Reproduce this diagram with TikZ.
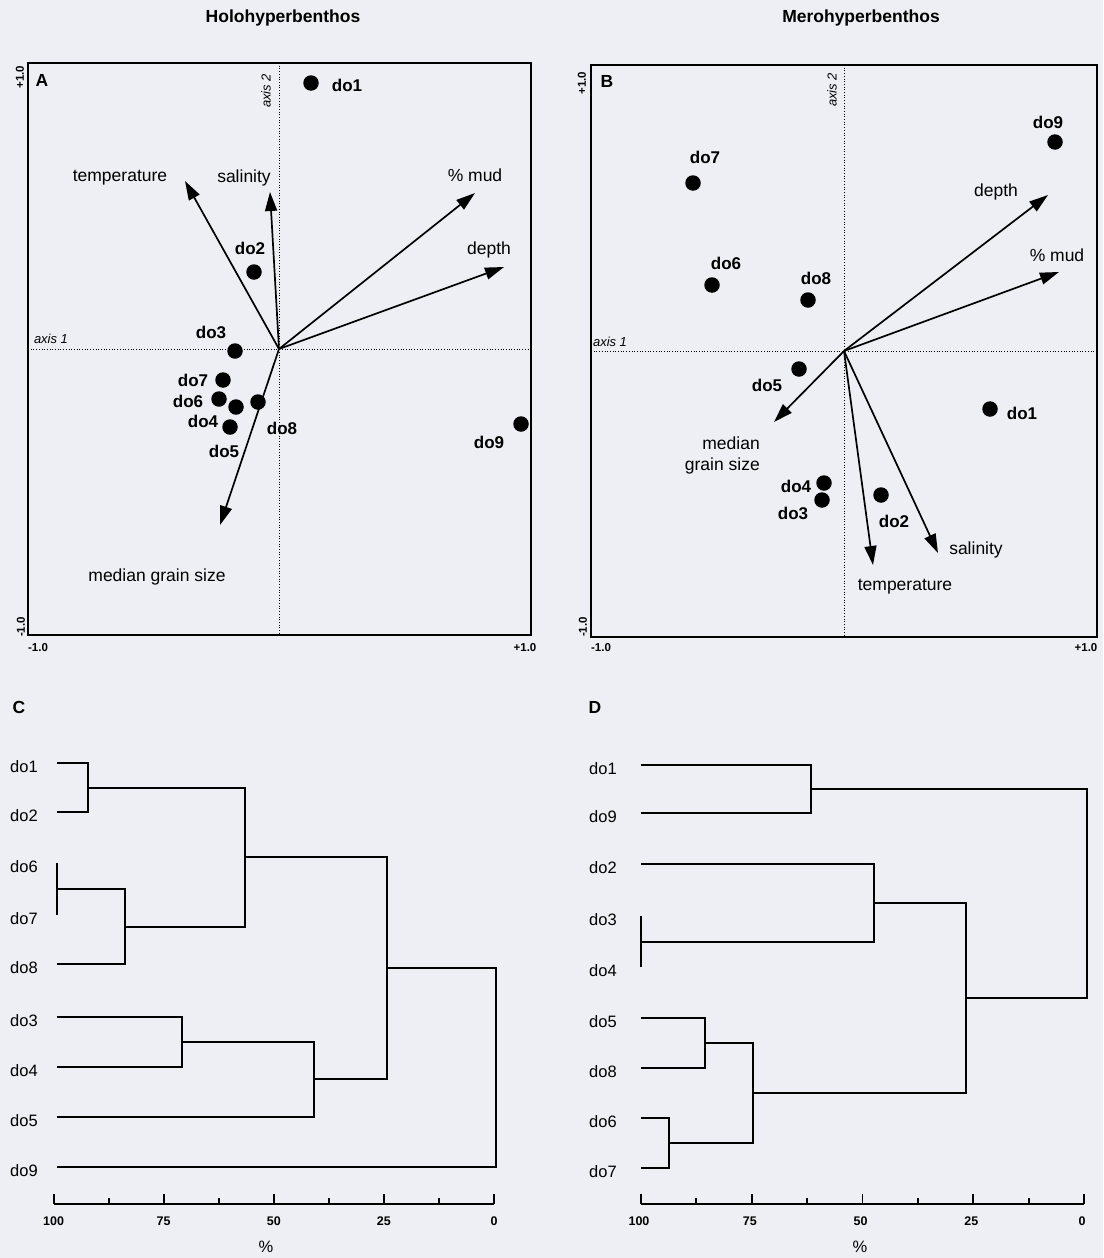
\documentclass[tikz,border=0pt]{standalone}
\usepackage{fontspec}
\setmainfont{Liberation Sans}
\usetikzlibrary{arrows.meta}
\definecolor{paper}{RGB}{237,239,244}
\begin{document}
\begin{tikzpicture}[x=1pt,y=-1pt,
  ttl/.style={font=\bfseries\fontsize{17.5}{19}\selectfont, inner sep=0},
  pnl/.style={font=\bfseries\fontsize{17.5}{19}\selectfont, inner sep=0},
  varlbl/.style={font=\fontsize{17.5}{21}\selectfont, inner sep=0},
  sitelbl/.style={font=\bfseries\fontsize{17}{20}\selectfont, inner sep=0},
  numlbl/.style={font=\bfseries\fontsize{11.5}{13}\selectfont, inner sep=0},
  axislbl/.style={font=\itshape\fontsize{13}{15}\selectfont, inner sep=0},
  sitedot/.style={circle, fill=black, minimum size=15.5pt, inner sep=0},
  vecarrow/.style={line width=1.7pt, -{Triangle[length=19pt,width=12pt]}},
  axisline/.style={line width=0.7pt, dotted},
  boxframe/.style={line width=2pt},
  dendline/.style={line width=1.9pt},
  leaflbl/.style={font=\fontsize{16.5}{20}\selectfont, inner sep=0, anchor=west},
  ticklbl/.style={font=\bfseries\fontsize{12.5}{14}\selectfont, inner sep=0},
]
\fill[paper] (0,0) rectangle (1103,1258);
\useasboundingbox (0,0) rectangle (1103,1258);

% ---------- titles ----------
\node[ttl] (tA) at (283,18) {Holohyperbenthos};
\node[ttl] (tB) at (861,18) {Merohyperbenthos};

% ================= Panel A =================
\draw[boxframe] (28,63) rectangle (531,635);
\coordinate (oA) at (279,349);
\draw[axisline] (279,63) -- (279,635);
\draw[axisline] (28,349) -- (531,349);
\node[pnl] (pA) at (42,80) {A};
\node[numlbl, rotate=90] (Ayp) at (20,77) {+1.0};
\node[numlbl, rotate=90] (Aym) at (21,627) {-1.0};
\node[numlbl] (Axm) at (38,648) {-1.0};
\node[numlbl] (Axp) at (525,648) {+1.0};
\node[axislbl, rotate=90] (Aax2) at (266,91) {axis 2};
\node[axislbl] (Aax1) at (51,339) {axis 1};

\coordinate (Atemp) at (185,181);
\coordinate (Asal) at (270,192);
\coordinate (Amud) at (475,193);
\coordinate (Adep) at (504,267);
\coordinate (Amed) at (220,525);
\draw[vecarrow] (oA) -- (Atemp);
\draw[vecarrow] (oA) -- (Asal);
\draw[vecarrow] (oA) -- (Amud);
\draw[vecarrow] (oA) -- (Adep);
\draw[vecarrow] (oA) -- (Amed);
\node[varlbl] (AtempL) at (120,178) {temperature};
\node[varlbl] (AsalL) at (244,178) {salinity};
\node[varlbl] (AmudL) at (475,175) {\% mud};
\node[varlbl] (AdepL) at (489,250) {depth};
\node[varlbl] (AmedL) at (157,577) {median grain size};

\node[sitedot] (A1) at (311,83) {};
\node[sitelbl] (A1L) at (347,85) {do1};
\node[sitedot] (A2) at (254,272) {};
\node[sitelbl] (A2L) at (250,248) {do2};
\node[sitedot] (A3) at (235,351) {};
\node[sitelbl] (A3L) at (211,332) {do3};
\node[sitedot] (A7) at (223,380) {};
\node[sitelbl] (A7L) at (193,380) {do7};
\node[sitedot] (A6) at (219,399) {};
\node[sitelbl] (A6L) at (188,401) {do6};
\node[sitedot] (A4) at (236,407) {};
\node[sitelbl] (A4L) at (203,421) {do4};
\node[sitedot] (A5) at (230,427) {};
\node[sitelbl] (A5L) at (224,451) {do5};
\node[sitedot] (A8) at (258,402) {};
\node[sitelbl] (A8L) at (282,428) {do8};
\node[sitedot] (A9) at (521,424) {};
\node[sitelbl] (A9L) at (489,442) {do9};

% ================= Panel B =================
\draw[boxframe] (591,65) rectangle (1097,637);
\coordinate (oB) at (844,351);
\draw[axisline] (844,65) -- (844,637);
\draw[axisline] (591,351) -- (1097,351);
\node[pnl] (pB) at (607,81) {B};
\node[numlbl, rotate=90] (Byp) at (582,83) {+1.0};
\node[numlbl, rotate=90] (Bym) at (583,627) {-1.0};
\node[numlbl] (Bxm) at (601,648) {-1.0};
\node[numlbl] (Bxp) at (1086,648) {+1.0};
\node[axislbl, rotate=90] (Bax2) at (832,90) {axis 2};
\node[axislbl] (Bax1) at (610,342) {axis 1};

\coordinate (Bdep) at (1048,195);
\coordinate (Bmud) at (1059,272);
\coordinate (Bmed) at (774,422);
\coordinate (Btemp) at (873,565);
\coordinate (Bsal) at (938,553);
\draw[vecarrow] (oB) -- (Bdep);
\draw[vecarrow] (oB) -- (Bmud);
\draw[vecarrow] (oB) -- (Bmed);
\draw[vecarrow] (oB) -- (Btemp);
\draw[vecarrow] (oB) -- (Bsal);
\node[varlbl] (BdepL) at (996,192) {depth};
\node[varlbl] (BmudL) at (1057,255) {\% mud};
\node[varlbl, align=right, anchor=east, font=\fontsize{17.5}{21}\selectfont] (BmedL) at (760,455) {median\\grain size};
\node[varlbl] (BtempL) at (905,587) {temperature};
\node[varlbl] (BsalL) at (976,550) {salinity};

\node[sitedot] (B9) at (1055,142) {};
\node[sitelbl] (B9L) at (1048,122) {do9};
\node[sitedot] (B7) at (693,183) {};
\node[sitelbl] (B7L) at (705,157) {do7};
\node[sitedot] (B6) at (712,285) {};
\node[sitelbl] (B6L) at (726,263) {do6};
\node[sitedot] (B8) at (808,300) {};
\node[sitelbl] (B8L) at (816,278) {do8};
\node[sitedot] (B5) at (799,369) {};
\node[sitelbl] (B5L) at (767,385) {do5};
\node[sitedot] (B1) at (990,409) {};
\node[sitelbl] (B1L) at (1022,413) {do1};
\node[sitedot] (B4) at (824,483) {};
\node[sitelbl] (B4L) at (796,486) {do4};
\node[sitedot] (B3) at (822,500) {};
\node[sitelbl] (B3L) at (793,513) {do3};
\node[sitedot] (B2) at (881,495) {};
\node[sitelbl] (B2L) at (894,521) {do2};

% ================= Panel C =================
\node[pnl] (pC) at (19,707) {C};
\foreach \n/\y in {1/763,2/812,6/863,7/915,8/964,3/1017,4/1067,5/1117,9/1167}{
  \coordinate (c\n) at (57,\y);
  \node[leaflbl] (cL\n) at (10,\y+4) {do\n};
}
\coordinate (cj12) at (88,788);
\coordinate (cj67) at (57,889);
\coordinate (cj678) at (125,927);
\coordinate (cj12678) at (245,857);
\coordinate (cj34) at (182,1042);
\coordinate (cj345) at (314,1079);
\coordinate (cjA) at (387,968);
\coordinate (croot) at (496,1067);
\draw[dendline] (c1) -| (cj12);
\draw[dendline] (c2) -| (cj12);
\draw[dendline] (c6) -- (c7);
\draw[dendline] (cj67) -| (cj678);
\draw[dendline] (c8) -| (cj678);
\draw[dendline] (cj12) -| (cj12678);
\draw[dendline] (cj678) -| (cj12678);
\draw[dendline] (c3) -| (cj34);
\draw[dendline] (c4) -| (cj34);
\draw[dendline] (cj34) -| (cj345);
\draw[dendline] (c5) -| (cj345);
\draw[dendline] (cj12678) -| (cjA);
\draw[dendline] (cj345) -| (cjA);
\draw[dendline] (cjA) -| (croot);
\draw[dendline] (c9) -| (croot);

\coordinate (cax0) at (53.6,1204);
\coordinate (cax1) at (494,1204);
\draw[dendline] (cax0) -- (cax1);
\foreach \p in {100,75,50,25,0}{
  \pgfmathsetmacro\xx{494-4.404*\p}
  \draw[dendline] (\xx,1204) -- (\xx,1194);
  \node[ticklbl] at (\xx,1221) {\p};
}
\foreach \p in {87.5,62.5,37.5,12.5}{
  \pgfmathsetmacro\xx{494-4.404*\p}
  \draw[dendline] (\xx,1204) -- (\xx,1198);
}
\node[varlbl, font=\fontsize{16.5}{18}\selectfont] (cpct) at (266,1247) {\%};

% ================= Panel D =================
\node[pnl] (pD) at (595,707) {D};
\foreach \n/\y in {1/765,9/813,2/864,3/916,4/967,5/1018,8/1068,6/1118,7/1168}{
  \coordinate (d\n) at (641,\y);
  \node[leaflbl] (dL\n) at (589,\y+4) {do\n};
}
\coordinate (dj19) at (811,789);
\coordinate (dj34) at (641,942);
\coordinate (dj234) at (874,903);
\coordinate (dj58) at (705,1043);
\coordinate (dj67) at (669,1143);
\coordinate (dj5867) at (753,1093);
\coordinate (dj27) at (966,998);
\coordinate (droot) at (1087,893);
\draw[dendline] (d1) -| (dj19);
\draw[dendline] (d9) -| (dj19);
\draw[dendline] (d3) -- (d4);
\draw[dendline] (d2) -| (dj234);
\draw[dendline] (dj34) -| (dj234);
\draw[dendline] (d5) -| (dj58);
\draw[dendline] (d8) -| (dj58);
\draw[dendline] (d6) -| (dj67);
\draw[dendline] (d7) -| (dj67);
\draw[dendline] (dj58) -| (dj5867);
\draw[dendline] (dj67) -| (dj5867);
\draw[dendline] (dj234) -| (dj27);
\draw[dendline] (dj5867) -| (dj27);
\draw[dendline] (dj19) -| (droot);
\draw[dendline] (dj27) -| (droot);

\coordinate (dax0) at (641,1204);
\coordinate (dax1) at (1084,1204);
\draw[dendline] (dax0) -- (dax1);
\foreach \p in {100,75,50,25,0}{
  \pgfmathsetmacro\xx{1084-4.43*\p}
  \draw[dendline] (\xx,1204) -- (\xx,1194);
  \node[ticklbl] at (\xx-2,1221) {\p};
}
\foreach \p in {87.5,62.5,37.5,12.5}{
  \pgfmathsetmacro\xx{1084-4.43*\p}
  \draw[dendline] (\xx,1204) -- (\xx,1198);
}
\node[varlbl, font=\fontsize{16.5}{18}\selectfont] (dpct) at (860,1247) {\%};
\end{tikzpicture}
\end{document}
